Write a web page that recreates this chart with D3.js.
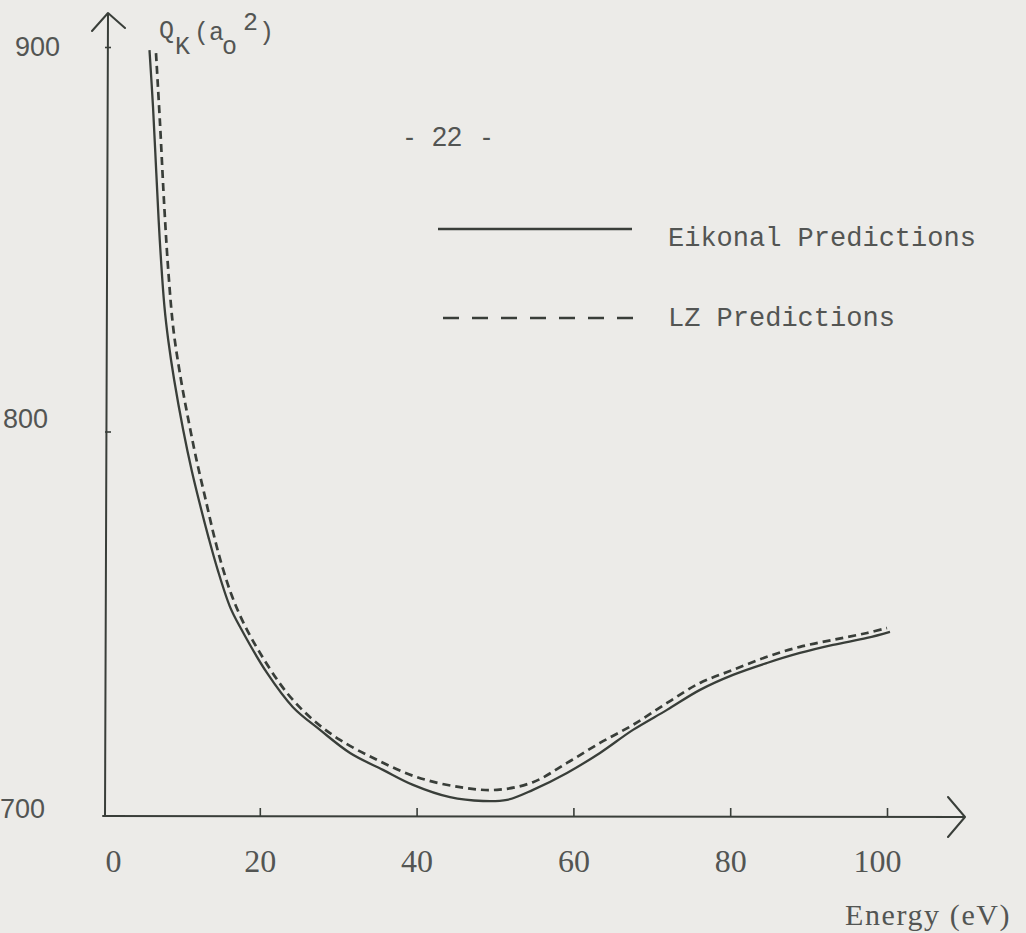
<!DOCTYPE html>
<html>
<head>
<meta charset="utf-8">
<script src="https://cdn.jsdelivr.net/npm/d3@7"></script>
<style>
  html, body { margin: 0; padding: 0; background: #ecebe8; }
  svg { display: block; }
</style>
</head>
<body>
<svg id="chart" width="1026" height="933"></svg>
<script>
// Energy (eV) and cross section Q_K (a_o^2) for both predictions
const eikonalEnergy = [5.93, 6.38, 6.80, 7.24, 7.84, 8.32, 9.08, 10.23, 11.30, 12.32, 13.44, 14.63, 16.20, 17.47, 20.92, 24.23, 27.68, 31.51, 35.71, 39.54, 44.26, 48.47, 51.53, 54.85, 59.18, 63.39, 67.60, 71.94, 76.15, 80.36, 84.69, 88.90, 93.11, 97.45, 100.38];
const eikonalQ = [899.2, 884.4, 867.2, 849.8, 832.4, 823.8, 813.4, 800.4, 790.0, 781.4, 772.6, 764.0, 754.4, 749.2, 737.2, 728.3, 722.4, 716.4, 712.0, 708.1, 704.9, 703.9, 704.2, 706.8, 711.2, 716.4, 722.4, 727.6, 732.8, 736.7, 739.8, 742.4, 744.5, 746.3, 747.9];

const lzEnergy = [6.76, 7.27, 7.82, 8.35, 8.99, 9.95, 10.97, 11.93, 13.01, 14.29, 15.34, 16.45, 17.86, 20.03, 23.47, 26.79, 30.23, 34.95, 40.05, 45.54, 50.26, 54.85, 59.18, 63.39, 67.60, 71.94, 76.15, 80.36, 84.69, 88.90, 93.11, 97.45, 100.0];
const lzQ = [898.4, 880.2, 858.4, 841.2, 826.4, 813.4, 802.2, 792.6, 783.0, 771.8, 764.0, 757.2, 750.5, 742.4, 732.0, 725.0, 719.8, 714.6, 710.1, 707.5, 706.8, 708.8, 713.8, 719.0, 723.7, 729.4, 734.6, 738.0, 741.4, 744.0, 745.8, 747.6, 748.9];

const xTicks = [0, 20, 40, 60, 80, 100];
const yTicks = [700, 800, 900];
const seriesNames = ["Eikonal Predictions", "LZ Predictions"];

const svg = d3.select("#chart");
const ink = "#393e39";
const textInk = "#535553";

const x = d3.scaleLinear().domain([0, 100]).range([103, 887]);
const y = d3.scaleLinear().domain([700, 900]).range([816, 47]);

// ---- axes ----
const xAxis = d3.axisBottom(x)
  .tickValues(xTicks)
  .tickSizeInner(-8)
  .tickSizeOuter(0)
  .tickPadding(33)
  .tickFormat(d3.format("d"));

const gx = svg.append("g")
  .attr("transform", `translate(0,${y(700)})`)
  .call(xAxis);
gx.select(".domain").remove();
gx.selectAll(".tick line").attr("stroke", ink).attr("stroke-width", 1.6)
  .filter(d => d === 0).remove();
gx.selectAll(".tick text")
  .attr("fill", textInk)
  .attr("font-family", "'Liberation Serif', serif")
  .attr("font-size", 32)
  .attr("dx", d => d === 0 ? 10 : (d === 100 ? -10 : 0));

const yAxis = d3.axisRight(y)
  .tickValues(yTicks)
  .tickSizeInner(6)
  .tickSizeOuter(0)
  .tickFormat("");

const gy = svg.append("g")
  .attr("transform", `translate(${x(0) + 2},0)`)
  .call(yAxis);
gy.select(".domain").remove();
gy.selectAll(".tick line").attr("stroke", ink).attr("stroke-width", 1.6)
  .filter(d => d === 700).remove();

// y tick labels sit to the left of the axis, slightly above each tick
const yLabelLeft = { 900: 15, 800: 3, 700: 0 };
svg.append("g").selectAll("text")
  .data(yTicks)
  .join("text")
  .attr("x", d => yLabelLeft[d])
  .attr("y", d => y(d) + (d === 700 ? 2 : (d === 800 ? -4 : 9)))
  .attr("fill", textInk)
  .attr("font-family", "'Liberation Sans', sans-serif")
  .attr("font-size", 27)
  .text(d => d);

// axis lines with open arrowheads
const axisPath = d3.path();
axisPath.moveTo(x(0) + 2, y(700));
axisPath.lineTo(x(0) + 5, 14);
axisPath.moveTo(x(0) - 11, 31);
axisPath.lineTo(x(0) + 5, 13);
axisPath.lineTo(x(0) + 22, 28);
axisPath.moveTo(x(0), y(700));
axisPath.lineTo(964, y(700) + 1);
axisPath.moveTo(948, y(700) - 19);
axisPath.lineTo(965, y(700) + 1);
axisPath.lineTo(948, y(700) + 21);
svg.append("path")
  .attr("d", axisPath.toString())
  .attr("fill", "none")
  .attr("stroke", ink)
  .attr("stroke-width", 2)
  .attr("stroke-linejoin", "round")
  .attr("stroke-linecap", "round");

// ---- axis titles ----
const mono = "'Liberation Mono', monospace";
const qLabel = svg.append("text")
  .attr("fill", textInk)
  .attr("font-family", mono)
  .attr("font-size", 25);
qLabel.append("tspan").attr("x", 159).attr("y", 38).text("Q");
qLabel.append("tspan").attr("x", 175).attr("y", 54).text("K");
qLabel.append("tspan").attr("x", 194).attr("y", 40).text("(a");
qLabel.append("tspan").attr("x", 222).attr("y", 54).text("o");
qLabel.append("tspan").attr("x", 243).attr("y", 30).text("2");
qLabel.append("tspan").attr("x", 259).attr("y", 40).text(")");

svg.append("text")
  .attr("x", 845)
  .attr("y", 925)
  .attr("fill", textInk)
  .attr("font-family", "'Liberation Serif', serif")
  .attr("font-size", 30)
  .attr("letter-spacing", 1.6)
  .text("Energy (eV)");

// page number
const page = svg.append("text")
  .attr("y", 146)
  .attr("fill", textInk)
  .attr("font-family", "'Liberation Sans', sans-serif")
  .attr("font-size", 27);
page.append("tspan").attr("x", 405).text("-");
page.append("tspan").attr("x", 432).text("22");
page.append("tspan").attr("x", 482).text("-");

// ---- curves ----
const line = d3.line()
  .x(d => x(d[0]))
  .y(d => y(d[1]))
  .curve(d3.curveCatmullRom.alpha(0.5));

const eikonal = eikonalEnergy.map((e, i) => [e, eikonalQ[i]]);
const lz = lzEnergy.map((e, i) => [e, lzQ[i]]);

svg.append("path")
  .datum(lz)
  .attr("d", line)
  .attr("fill", "none")
  .attr("stroke", ink)
  .attr("stroke-width", 2.7)
  .attr("stroke-dasharray", "8,5");

svg.append("path")
  .datum(eikonal)
  .attr("d", line)
  .attr("fill", "none")
  .attr("stroke", ink)
  .attr("stroke-width", 2.3);

// ---- legend ----
const legend = svg.append("g");
legend.append("line")
  .attr("x1", 438).attr("x2", 632)
  .attr("y1", 229).attr("y2", 229)
  .attr("stroke", ink).attr("stroke-width", 2.3);
legend.append("line")
  .attr("x1", 443).attr("x2", 633)
  .attr("y1", 318).attr("y2", 318)
  .attr("stroke", ink).attr("stroke-width", 2.5)
  .attr("stroke-dasharray", "16,13");
legend.selectAll("text")
  .data(seriesNames)
  .join("text")
  .attr("x", 668)
  .attr("y", (d, i) => i === 0 ? 246 : 326)
  .attr("fill", textInk)
  .attr("font-family", mono)
  .attr("font-size", 27)
  .text(d => d);
</script>
</body>
</html>
